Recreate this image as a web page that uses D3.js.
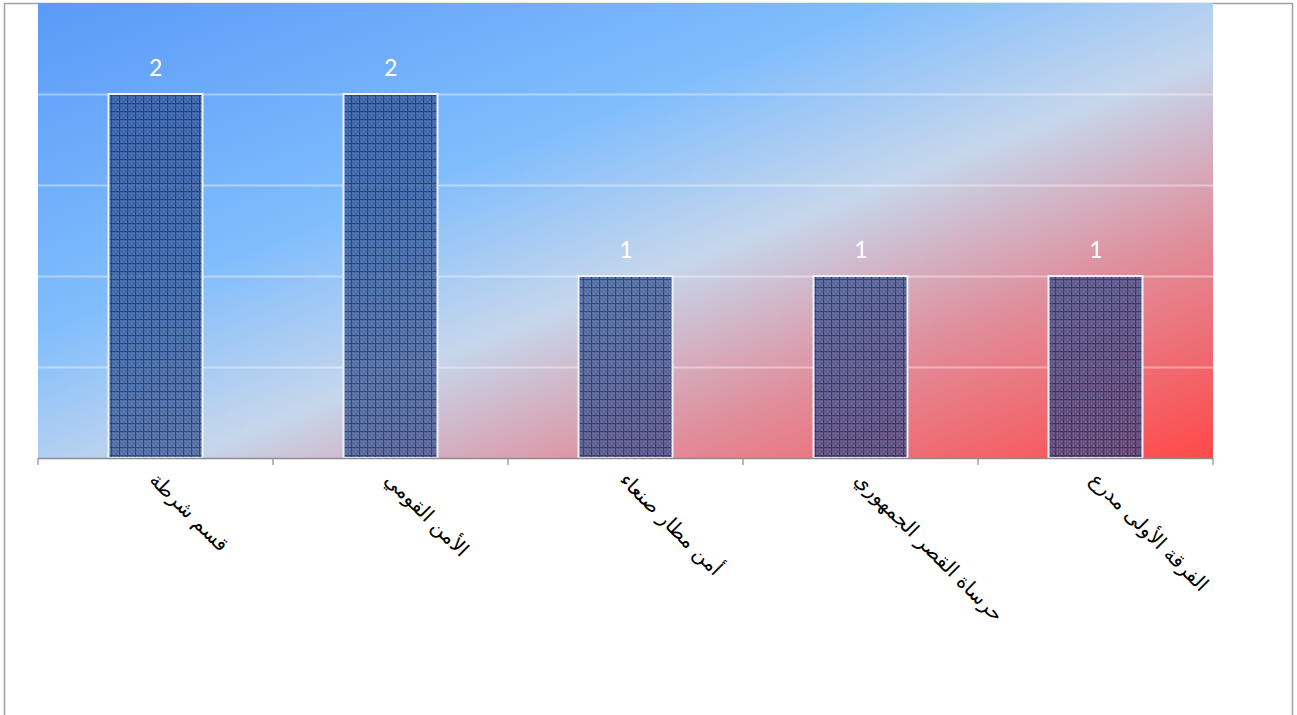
<!DOCTYPE html>
<html><head><meta charset="utf-8">
<script src="https://cdn.jsdelivr.net/npm/d3@7"></script>
<style>html,body{margin:0;padding:0;background:#fff;}svg{display:block;}</style>
</head><body>
<script>
const categories = ["قسم شرطة", "الأمن القومي", "أمن مطار صنعاء", "حرساة القصر الجمهوري", "الفرقة الأولى مدرع"];
const values = [2, 2, 1, 1, 1];
const gridTicks = [0, 0.5, 1, 1.5, 2, 2.5];

const W = 1297, H = 715;
const plot = {left: 38, right: 1213, top: 3, bottom: 458};

const svg = d3.select("body").append("svg").attr("width", W).attr("height", H);
const defs = svg.append("defs");

const grad = defs.append("linearGradient").attr("id", "bg")
  .attr("x1", 0).attr("y1", 0).attr("x2", 1).attr("y2", 1);
[[0, "#5a9af8"], [0.36, "#80bdfd"], [0.56, "#c6d6ec"], [0.75, "#e08e9c"], [1, "#ff4848"]]
  .forEach(([o, c]) => grad.append("stop").attr("offset", o).attr("stop-color", c));

const pat = defs.append("pattern").attr("id", "barpat").attr("patternUnits", "userSpaceOnUse")
  .attr("width", 8).attr("height", 8);
pat.append("rect").attr("width", 8).attr("height", 8).attr("fill", "#2a4886").attr("fill-opacity", 0.7);
[[1,1],[3,3],[5,1],[1,5],[5,5]].forEach(([px, py]) =>
  pat.append("rect").attr("x", px).attr("y", py).attr("width", 1).attr("height", 1).attr("fill", "#8aa6d4").attr("fill-opacity", 0.45));
pat.append("rect").attr("x", 0).attr("y", 7).attr("width", 8).attr("height", 1).attr("fill", "#1d3466").attr("fill-opacity", 0.6);
pat.append("rect").attr("x", 7).attr("y", 0).attr("width", 1).attr("height", 8).attr("fill", "#1d3466").attr("fill-opacity", 0.6);

// outer border
svg.append("rect").attr("x", 4.5).attr("y", 3.5).attr("width", 1288).attr("height", 730)
  .attr("fill", "none").attr("stroke", "#a0a0a0").attr("stroke-width", 1.5);

const x = d3.scaleBand().domain(categories).range([plot.left, plot.right]).paddingInner(0.6).paddingOuter(0.3);
const y = d3.scaleLinear().domain([0, 2.5]).range([plot.bottom, plot.top]);

svg.append("rect").attr("x", plot.left).attr("y", plot.top)
  .attr("width", plot.right - plot.left).attr("height", plot.bottom - plot.top).attr("fill", "url(#bg)");

svg.append("g").selectAll("line").data(gridTicks.filter(t => t > 0 && t < 2.5)).join("line")
  .attr("x1", plot.left).attr("x2", plot.right)
  .attr("y1", d => Math.round(y(d)) + 0.5).attr("y2", d => Math.round(y(d)) + 0.5)
  .attr("stroke", "#ffffff").attr("stroke-opacity", 0.4).attr("stroke-width", 2);

svg.append("g").selectAll("rect").data(values).join("rect")
  .attr("x", (d, i) => x(categories[i])).attr("width", x.bandwidth())
  .attr("y", d => y(d)).attr("height", d => y(0) - y(d))
  .attr("fill", "url(#barpat)").attr("stroke", "#eef2f7").attr("stroke-width", 2);

svg.append("g").selectAll("text").data(values).join("text")
  .attr("x", (d, i) => x(categories[i]) + x.bandwidth() / 2)
  .attr("y", d => y(d) - 18)
  .attr("text-anchor", "middle").attr("fill", "#ffffff")
  .attr("font-family", "Carlito, Liberation Sans, Arial, sans-serif").attr("font-size", 26)
  .text(d => d);

// x axis
const band2 = d3.scaleBand().domain(categories).range([plot.left, plot.right]);
const axis = svg.append("g");
axis.append("line").attr("x1", plot.left).attr("x2", plot.right)
  .attr("y1", plot.bottom + 0.5).attr("y2", plot.bottom + 0.5).attr("stroke", "#8c8c8c").attr("stroke-width", 1.5);
const tickXs = categories.map(c => band2(c)).concat([plot.right]);
axis.selectAll("line.tick").data(tickXs).join("line").attr("class", "tick")
  .attr("x1", d => d).attr("x2", d => d).attr("y1", plot.bottom).attr("y2", plot.bottom + 7)
  .attr("stroke", "#8c8c8c").attr("stroke-width", 1.2);

axis.selectAll("text").data(categories).join("text")
  .attr("transform", c => `translate(${band2(c) + band2.bandwidth() / 2 - 7},${plot.bottom + 23}) rotate(45)`)
  .attr("text-anchor", "start").attr("fill", "#000")
  .attr("font-family", "DejaVu Sans, sans-serif").attr("font-size", 20)
  .text(c => c);
</script>
</body></html>
